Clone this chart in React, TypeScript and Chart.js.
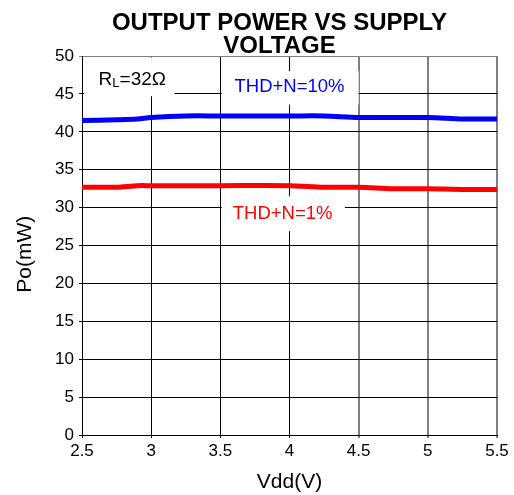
import React, { useEffect, useRef } from "react";
import { Chart, registerables } from "chart.js";

Chart.register(...registerables);

const titleLines = ["OUTPUT POWER VS SUPPLY   ", "VOLTAGE   "];
const xLabel = "Vdd(V)";
const yLabel = "Po(mW)   ";

const vdd10 = [2.5, 2.75, 2.9, 3.0, 3.25, 3.5, 4.0, 4.25, 4.5, 5.0, 5.25, 5.5];
const po10 = [41.5, 41.6, 41.7, 41.9, 42.1, 42.1, 42.1, 42.1, 41.9, 41.9, 41.7, 41.7];
const vdd1 = [2.5, 2.75, 2.9, 3.0, 3.5, 4.0, 4.25, 4.5, 4.75, 5.0, 5.25, 5.5];
const po1 = [32.7, 32.7, 32.9, 32.9, 32.9, 32.9, 32.7, 32.7, 32.5, 32.5, 32.4, 32.4];

const label10 = "THD+N=10%";
const label1 = "THD+N=1%";

const xTicks = [2.5, 3, 3.5, 4, 4.5, 5, 5.5];

const FONT = "'Liberation Sans', Arial, sans-serif";

const boxesPlugin = {
  id: "boxes",
  beforeDatasetsDraw(chart: any) {
    const { ctx, scales } = chart;
    const x = scales.x;
    const y = scales.y;
    const box = (x0: number, x1: number, y0: number, y1: number) => {
      const px0 = x.getPixelForValue(x0);
      const px1 = x.getPixelForValue(x1);
      const py0 = y.getPixelForValue(y0);
      const py1 = y.getPixelForValue(y1);
      ctx.fillStyle = "#ffffff";
      ctx.fillRect(px0, py0, px1 - px0, py1 - py0);
    };
    ctx.save();
    box(2.515, 3.17, 49.8, 44.7);
    box(3.51, 4.5, 48.0, 43.6);
    box(3.51, 4.4, 31.5, 26.9);
    ctx.restore();
  },
  afterDatasetsDraw(chart: any) {
    const { ctx, scales } = chart;
    const x = scales.x;
    const y = scales.y;
    ctx.save();
    ctx.textBaseline = "middle";
    // R_L label
    let px = x.getPixelForValue(2.62);
    const py = y.getPixelForValue(46.9);
    ctx.fillStyle = "#000";
    ctx.textAlign = "left";
    ctx.font = `19px ${FONT}`;
    ctx.fillText("R", px, py);
    px += ctx.measureText("R").width;
    ctx.font = `13px ${FONT}`;
    ctx.fillText("L", px, py + 4);
    px += ctx.measureText("L").width;
    ctx.font = `19px ${FONT}`;
    ctx.fillText("=32Ω", px, py);
    // THD labels
    ctx.textAlign = "center";
    ctx.font = `18.5px ${FONT}`;
    ctx.fillStyle = "#0000ff";
    ctx.fillText(label10, x.getPixelForValue(4.0), y.getPixelForValue(45.9));
    ctx.fillStyle = "#ff0000";
    ctx.fillText(label1, x.getPixelForValue(3.95), y.getPixelForValue(29.2));
    ctx.restore();
  },
};

export default function App() {
  const ref = useRef<HTMLCanvasElement>(null);
  useEffect(() => {
    if (!ref.current) return;
    const chart = new Chart(ref.current, {
      type: "line",
      data: {
        datasets: [
          {
            label: label10,
            data: vdd10.map((v, i) => ({ x: v, y: po10[i] })),
            borderColor: "#0000ff",
            borderWidth: 5,
            pointRadius: 0,
            tension: 0.3,
          },
          {
            label: label1,
            data: vdd1.map((v, i) => ({ x: v, y: po1[i] })),
            borderColor: "#ff0000",
            borderWidth: 5,
            pointRadius: 0,
            tension: 0.3,
          },
        ],
      },
      plugins: [boxesPlugin],
      options: {
        animation: false,
        responsive: false,
        maintainAspectRatio: false,
        layout: { padding: { left: 0, right: 17, top: 0, bottom: 0 } },
        plugins: {
          legend: { display: false },
          tooltip: { enabled: false },
          title: {
            display: true,
            text: titleLines,
            color: "#000",
            fullSize: false,
            font: { family: FONT, size: 24, weight: "bold", lineHeight: 0.96 },
            padding: { top: 12, bottom: -2 },
          },
        },
        scales: {
          x: {
            type: "linear",
            min: 2.5,
            max: 5.5,
            afterBuildTicks: (s: any) => {
              s.ticks = xTicks.map((v) => ({ value: v }));
            },
            ticks: {
              color: "#000",
              font: { family: FONT, size: 17 },
              padding: 3,
              maxRotation: 0,
              callback: (v: any) => String(v),
            },
            grid: {
              color: (c: any) => (c.tick && c.tick.value >= 4.5 ? "#7f7f7f" : "#000"),
              lineWidth: (c: any) => (c.tick && c.tick.value >= 4.5 ? 2 : 1),
              tickLength: 3,
            },
            border: { color: "#000", width: 1 },
            title: {
              display: true,
              text: xLabel,
              color: "#000",
              font: { family: FONT, size: 21 },
              padding: { top: 0, bottom: 0 },
            },
            afterFit: (s: any) => {
              s.height = 60;
            },
          },
          y: {
            min: 0,
            max: 50,
            ticks: {
              stepSize: 5,
              color: "#000",
              font: { family: FONT, size: 17 },
              padding: 5,
            },
            grid: {
              color: (c: any) => (c.tick && c.tick.value === 50 ? "#7f7f7f" : "#000"),
              lineWidth: 1,
              tickLength: 3,
            },
            border: { color: "#000", width: 1 },
            title: {
              display: true,
              text: yLabel,
              color: "#000",
              font: { family: FONT, size: 21 },
              padding: { top: 13, bottom: 0 },
            },
            afterFit: (s: any) => {
              s.width = 82;
            },
          },
        },
      },
    });
    return () => chart.destroy();
  }, []);
  return (
    <div style={{ position: "fixed", left: 0, top: 0, width: 514, height: 495, background: "#fff" }}>
      <canvas ref={ref} width={514} height={495} style={{ width: 514, height: 495 }} />
    </div>
  );
}
